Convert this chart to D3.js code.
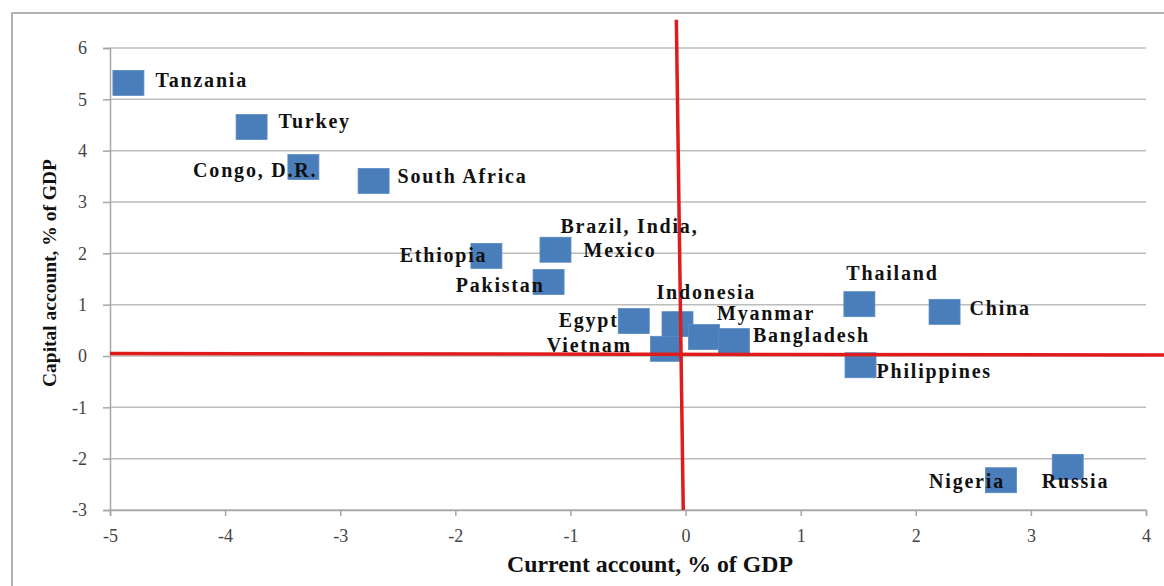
<!DOCTYPE html>
<html>
<head>
<meta charset="utf-8">
<title>Current vs capital account</title>
<script src="https://cdn.jsdelivr.net/npm/d3@7"></script>
<style>
  body { margin: 0; background: #fff; }
  svg { display: block; }
</style>
</head>
<body>
<div id="chart"></div>
<script>
// countries and their current / capital account balances (% of GDP)
var countries = ["Tanzania", "Turkey", "Congo, D.R.", "South Africa", "Ethiopia",
                 "Brazil, India, Mexico", "Pakistan", "Egypt", "Indonesia", "Vietnam",
                 "Myanmar", "Bangladesh", "Thailand", "China", "Philippines", "Nigeria", "Russia"];
var currentAccount = [-4.84, -3.77, -3.32, -2.71, -1.73, -1.13, -1.19, -0.45, -0.07, -0.17,
                      0.16, 0.42, 1.51, 2.25, 1.52, 2.74, 3.32];
var capitalAccount = [5.32, 4.46, 3.68, 3.41, 1.95, 2.07, 1.44, 0.68, 0.62, 0.14,
                      0.37, 0.29, 1.01, 0.86, -0.18, -2.42, -2.16];
var xTicks = [-5, -4, -3, -2, -1, 0, 1, 2, 3, 4];
var yTicks = [-3, -2, -1, 0, 1, 2, 3, 4, 5, 6];

// where each label sits relative to its marker (pixels)
var labelPos = {
  "Tanzania": [27, 4, "start"],
  "Turkey": [27, 1, "start"],
  "Congo, D.R.": [14, 10, "end"],
  "South Africa": [24, 2, "start"],
  "Ethiopia": [1, 6, "end"],
  "Brazil, India, Mexico": [5, -17, "start"],
  "Pakistan": [-4, 10, "end"],
  "Egypt": [-15, 6, "end"],
  "Indonesia": [-21, -25, "start"],
  "Vietnam": [-34, 3, "end"],
  "Myanmar": [13, -17, "start"],
  "Bangladesh": [19, 1, "start"],
  "Thailand": [-13, -24, "start"],
  "China": [25, 3, "start"],
  "Philippines": [16, 13, "start"],
  "Nigeria": [4, 8, "end"],
  "Russia": [-26, 21, "start"]
};

var serif = "'Liberation Serif', 'Times New Roman', serif";

var data = countries.map(function(c, i) {
  return {name: c, x: currentAccount[i], y: capitalAccount[i]};
});

var width = 1164, height = 586;
var margin = {left: 110, right: 18, top: 48, bottom: 76};

var svg = d3.select("#chart").append("svg")
    .attr("width", width)
    .attr("height", height);

// outer frame
svg.append("path")
    .attr("d", "M12," + height + "V13H" + width)
    .attr("fill", "none")
    .attr("stroke", "#b3b3b3")
    .attr("stroke-width", 2);

var x = d3.scaleLinear().domain([-5, 4]).range([margin.left, width - margin.right]);
var y = d3.scaleLinear().domain([-3, 6]).range([height - margin.bottom, margin.top]);

// horizontal gridlines
svg.append("g").selectAll("line")
    .data(yTicks)
  .enter().append("line")
    .attr("x1", x(-5)).attr("x2", x(4))
    .attr("y1", function(d) { return y(d); })
    .attr("y2", function(d) { return y(d); })
    .attr("stroke", "#bdbdbd")
    .attr("stroke-width", 1.5);

var yAxis = svg.append("g")
    .attr("transform", "translate(" + margin.left + ",0)")
    .call(d3.axisLeft(y).tickValues(yTicks).tickSize(7).tickPadding(16).tickFormat(function(d) { return String(d); }));

var xAxis = svg.append("g")
    .attr("transform", "translate(0," + y(-3) + ")")
    .call(d3.axisBottom(x).tickValues(xTicks).tickSize(6).tickPadding(13).tickFormat(function(d) { return String(d); }));

[yAxis, xAxis].forEach(function(a) {
  a.attr("font-family", serif).attr("font-size", 18);
  a.select(".domain").attr("stroke", "#a6a6a6").attr("stroke-width", 1.5);
  a.selectAll(".tick line").attr("stroke", "#a6a6a6").attr("stroke-width", 1.5);
  a.selectAll(".tick text").attr("fill", "#444");
});

// markers
var bw = 31, bh = 25;
svg.append("g").selectAll("rect")
    .data(data)
  .enter().append("rect")
    .attr("x", function(d) { return x(d.x) - bw / 2; })
    .attr("y", function(d) { return y(d.y) - bh / 2; })
    .attr("width", bw)
    .attr("height", bh)
    .attr("fill", "#4a7ebb")
    .attr("stroke", "#5b8ac4")
    .attr("stroke-width", 0.8);

// red quadrant lines
var redLine = d3.line()
    .x(function(d) { return x(d[0]); })
    .y(function(d) { return y(d[1]); });

svg.append("path")
    .attr("d", redLine([[-5, 0.05], [4.16, 0.02]]))
    .attr("stroke", "#e01b1b")
    .attr("stroke-width", 3.5)
    .attr("fill", "none");

svg.append("path")
    .attr("d", redLine([[-0.08, 6.55], [-0.02, -3]]))
    .attr("stroke", "#e01b1b")
    .attr("stroke-width", 3.5)
    .attr("fill", "none");

// labels
var labels = svg.append("g")
    .attr("font-family", serif)
    .attr("font-size", 20)
    .attr("font-weight", "bold")
    .attr("letter-spacing", 1.8)
    .attr("fill", "#111")
  .selectAll("text")
    .data(data)
  .enter().append("text")
    .attr("x", function(d) { return x(d.x) + labelPos[d.name][0]; })
    .attr("y", function(d) { return y(d.y) + labelPos[d.name][1]; })
    .attr("text-anchor", function(d) { return labelPos[d.name][2]; });

labels.each(function(d) {
  var t = d3.select(this);
  if (d.name == "Brazil, India, Mexico") {
    t.append("tspan").text("Brazil, India,");
    t.append("tspan").attr("x", x(d.x) + 28).attr("dy", 24).text("Mexico");
  } else {
    t.text(d.name);
  }
});

// axis titles
svg.append("text")
    .attr("x", 650)
    .attr("y", 572)
    .attr("text-anchor", "middle")
    .attr("font-family", serif)
    .attr("font-weight", "bold")
    .attr("font-size", 23)
    .attr("fill", "#111")
    .attr("textLength", 286)
    .attr("lengthAdjust", "spacingAndGlyphs")
    .text("Current account, % of GDP");

svg.append("text")
    .attr("transform", "translate(56,273) rotate(-90)")
    .attr("text-anchor", "middle")
    .attr("font-family", serif)
    .attr("font-weight", "bold")
    .attr("font-size", 19.5)
    .attr("fill", "#111")
    .text("Capital account, % of GDP");
</script>
</body>
</html>
